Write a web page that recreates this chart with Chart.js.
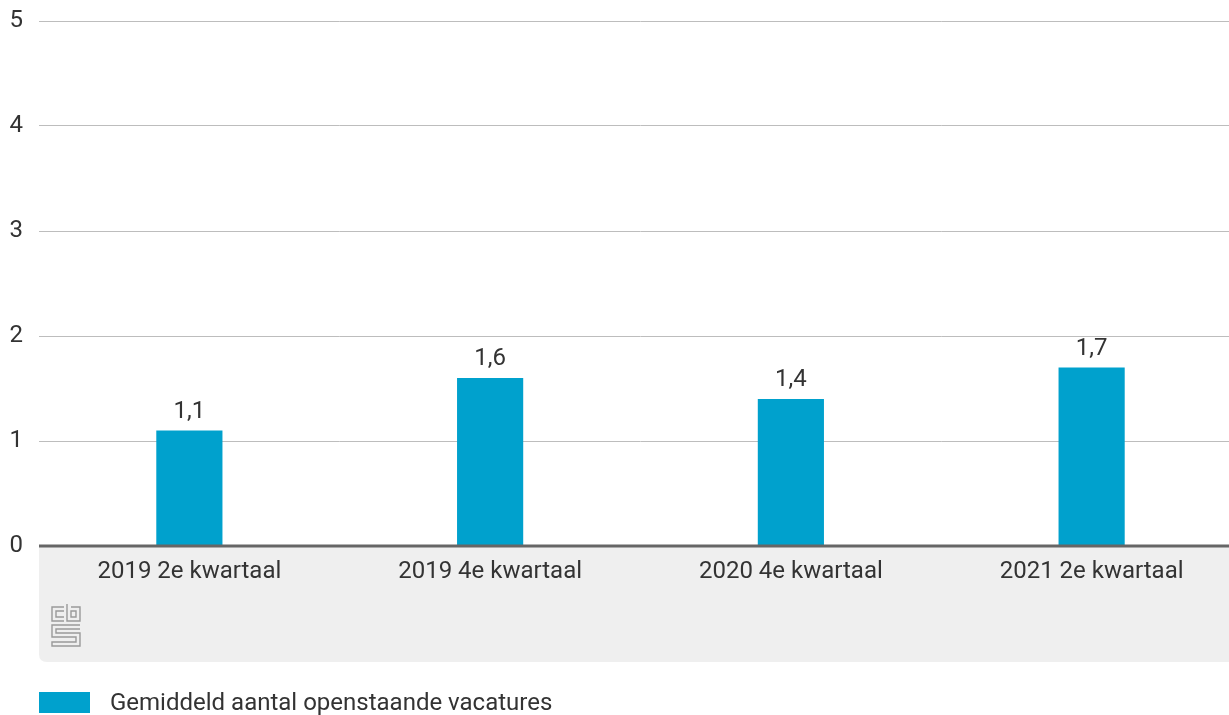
<!DOCTYPE html>
<html>
<head>
<meta charset="utf-8">
<script src="https://cdn.jsdelivr.net/npm/chart.js@4.4.3/dist/chart.umd.min.js"></script>
<style>
  html, body { margin: 0; padding: 0; background: #fff; overflow: hidden; }
  #wrap { position: relative; width: 1242px; height: 715px; }
  .legend { position: absolute; left: 39px; top: 692px; height: 21px; display: flex; align-items: center;
            font: 24px/21px Roboto, "Noto Sans", sans-serif; color: #333; white-space: nowrap; }
  .legend .swatch { width: 51px; height: 21px; background: #00a1cd; margin-right: 20px; flex: none; }
</style>
</head>
<body>
<div id="wrap">
  <canvas id="chart"></canvas>
  <div class="legend"><span class="swatch"></span><span id="legendText"></span></div>
</div>
<script>
const categories = ['2019 2e kwartaal', '2019 4e kwartaal', '2020 4e kwartaal', '2021 2e kwartaal'];
const vacatures = [1.1, 1.6, 1.4, 1.7];
const seriesLabel = 'Gemiddeld aantal openstaande vacatures';
const yTicks = [0, 1, 2, 3, 4, 5];

const FONT = 'Roboto, "Noto Sans", sans-serif';
const TEXT = '#333333';
const BLUE = '#00a1cd';

document.getElementById('legendText').textContent = seriesLabel;

const fmt = v => v.toLocaleString('nl-NL', { minimumFractionDigits: 1, maximumFractionDigits: 1 });

// grey band beneath the axis plus the cbs mark
const bandPlugin = {
  id: 'band',
  beforeDraw(chart) {
    const { ctx, chartArea } = chart;
    const x0 = chartArea.left, x1 = chartArea.right;
    const y0 = chartArea.bottom, y1 = chart.scales.x.bottom;
    const r = 8;
    ctx.save();
    ctx.fillStyle = '#efefef';
    ctx.beginPath();
    ctx.moveTo(x0, y0);
    ctx.lineTo(x1, y0);
    ctx.lineTo(x1, y1);
    ctx.lineTo(x0 + r, y1);
    ctx.quadraticCurveTo(x0, y1, x0, y1 - r);
    ctx.closePath();
    ctx.fill();

    // cbs logo
    const lx = x0 + 13, ly = y0 + 58;
    ctx.strokeStyle = '#9a9a9a';
    ctx.lineWidth = 1.4;
    ctx.beginPath();
    // c
    ctx.moveTo(lx + 12, ly + 3); ctx.lineTo(lx, ly + 3); ctx.lineTo(lx, ly + 17); ctx.lineTo(lx + 12, ly + 17);
    ctx.moveTo(lx + 12, ly + 7); ctx.lineTo(lx + 4, ly + 7); ctx.lineTo(lx + 4, ly + 13); ctx.lineTo(lx + 12, ly + 13);
    // b
    ctx.moveTo(lx + 15, ly); ctx.lineTo(lx + 15, ly + 17); ctx.lineTo(lx + 28, ly + 17); ctx.lineTo(lx + 28, ly + 3); ctx.lineTo(lx + 19, ly + 3);
    ctx.rect(lx + 19, ly + 7, 5, 6);
    // s maze
    ctx.moveTo(lx + 28, ly + 21); ctx.lineTo(lx, ly + 21); ctx.lineTo(lx, ly + 33); ctx.lineTo(lx + 24, ly + 33);
    ctx.lineTo(lx + 24, ly + 38); ctx.lineTo(lx, ly + 38); ctx.lineTo(lx, ly + 42); ctx.lineTo(lx + 28, ly + 42);
    ctx.lineTo(lx + 28, ly + 29); ctx.lineTo(lx + 4, ly + 29); ctx.lineTo(lx + 4, ly + 25); ctx.lineTo(lx + 28, ly + 25);
    ctx.stroke();
    ctx.restore();
  },
  afterDatasetsDraw(chart) {
    const { ctx } = chart;
    const meta = chart.getDatasetMeta(0);
    ctx.save();
    ctx.font = '24px ' + FONT;
    ctx.fillStyle = TEXT;
    ctx.textAlign = 'center';
    ctx.textBaseline = 'alphabetic';
    meta.data.forEach((bar, i) => {
      ctx.fillText(fmt(vacatures[i]), bar.x, bar.y - 13);
    });
    // axis baseline
    const a = chart.chartArea;
    ctx.strokeStyle = '#666666';
    ctx.lineWidth = 3;
    ctx.beginPath();
    ctx.moveTo(a.left, a.bottom);
    ctx.lineTo(a.right, a.bottom);
    ctx.stroke();
    ctx.restore();
  }
};

new Chart(document.getElementById('chart'), {
  type: 'bar',
  data: {
    labels: categories,
    datasets: [{
      label: seriesLabel,
      data: vacatures,
      backgroundColor: BLUE,
      borderWidth: 0,
      barPercentage: 0.22,
      categoryPercentage: 1
    }]
  },
  options: {
    responsive: true,
    maintainAspectRatio: false,
    animation: false,
    layout: { padding: { top: 21, left: 0, right: 0, bottom: 53 } },
    plugins: {
      tooltip: { enabled: false },
      legend: { display: false }
    },
    scales: {
      x: {
        grid: { display: false, drawTicks: false },
        border: { display: false },
        ticks: { color: TEXT, font: { family: FONT, size: 24 }, padding: 12, maxRotation: 0 },
        afterFit: s => { s.height = 116; s.paddingLeft = 0; s.paddingRight = 0; }
      },
      y: {
        min: 0,
        max: 5,
        afterBuildTicks: s => { s.ticks = yTicks.map(v => ({ value: v })); },
        grid: { color: '#bdbdbd', lineWidth: 1, drawTicks: false },
        border: { display: false },
        ticks: { color: TEXT, font: { family: FONT, size: 24 }, padding: 16 },
        afterFit: s => { s.width = 39; s.paddingTop = 0; s.paddingBottom = 0; }
      }
    }
  },
  plugins: [bandPlugin]
});
</script>
</body>
</html>
